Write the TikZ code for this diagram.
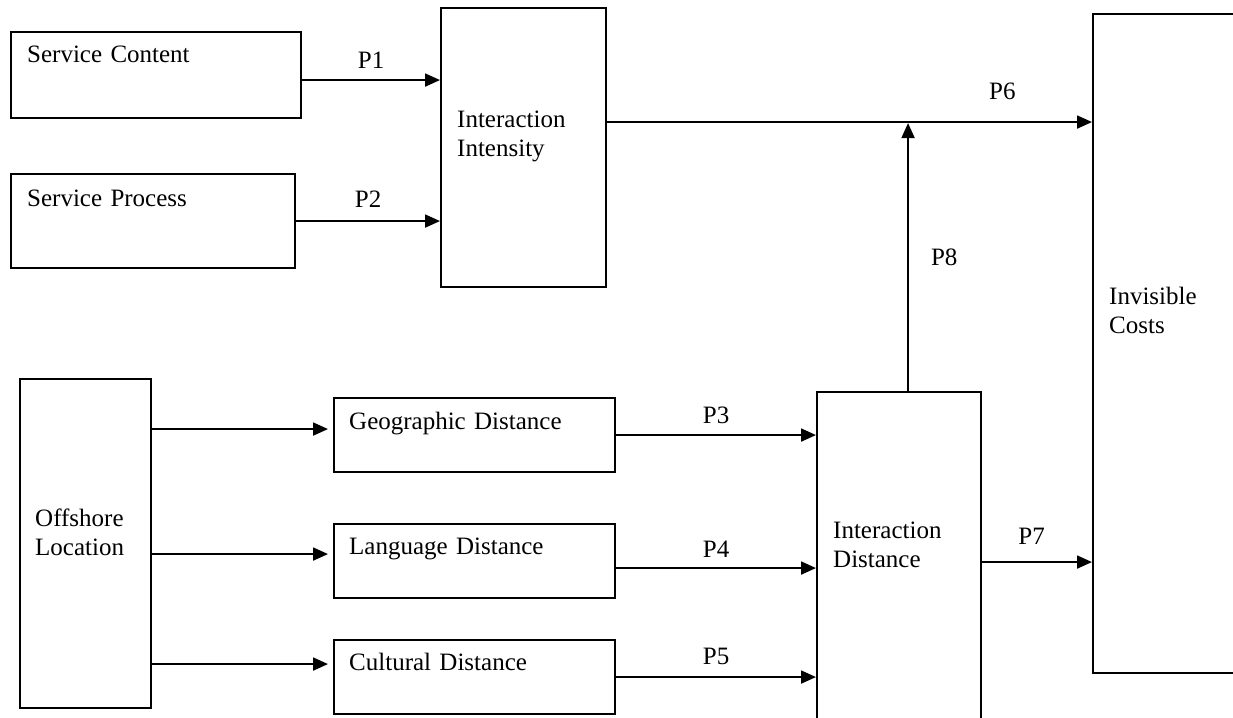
\documentclass[tikz,border=0pt]{standalone}
\usepackage{fontspec}
\setmainfont{Liberation Serif}
\usetikzlibrary{arrows.meta,calc}
\begin{document}
\begin{tikzpicture}[x=1pt,y=-1pt,
  box/.style={draw, rectangle, line width=2.1pt, inner sep=0pt, anchor=north west},
  txt/.style={anchor=base west, inner sep=0pt, font=\fontsize{25}{29}\selectfont,
              align=left, text width=220pt},
  lab/.style={inner sep=0pt, font=\fontsize{25}{29}\selectfont},
  conn/.style={line width=1.9pt, -{Triangle[length=15pt,width=13pt]}}]

% page frame
\useasboundingbox (0,0) rectangle (1233,717);
\fill[white] (0,0) rectangle (1233,717);
\clip (0,0) rectangle (1233,717);

% boxes
\node[box, minimum width=290pt, minimum height=86pt]  (sc) at (10,31)   {};
\node[box, minimum width=284pt, minimum height=94pt]  (sp) at (10,173)  {};
\node[box, minimum width=165pt, minimum height=279pt] (ii) at (440,7)   {};
\node[box, minimum width=150pt, minimum height=659pt] (ic) at (1092,13) {};
\node[box, minimum width=131pt, minimum height=329pt] (ol) at (19,378)  {};
\node[box, minimum width=281pt, minimum height=74pt]  (gd) at (333,397) {};
\node[box, minimum width=281pt, minimum height=74pt]  (ld) at (333,523) {};
\node[box, minimum width=281pt, minimum height=74pt]  (cd) at (333,639) {};
\node[box, minimum width=164pt, minimum height=340pt] (id) at (816,391) {};

% box texts
\node[txt] (tsc) at (27,63)   {Service Content};
\node[txt] (tsp) at (27,206)  {Service Process};
\node[txt] (tii) at (457,127) {Interaction\\Intensity};
\node[txt] (tic) at (1109,304){Invisible\\Costs};
\node[txt] (tol) at (35,526)  {Offshore\\Location};
\node[txt] (tgd) at (349,429) {Geographic Distance};
\node[txt] (tld) at (349,554) {Language Distance};
\node[txt] (tcd) at (349,670) {Cultural Distance};
\node[txt] (tid) at (833,538) {Interaction\\Distance};

% connectors into Interaction Intensity
\draw[conn] ([yshift=-5pt]sc.east) -- ([yshift=-5pt]sc.east -| ii.west)
  node[lab, midway, above=11pt] {P1};
\draw[conn] (sp.east) -- (sp.east -| ii.west)
  node[lab, midway, above=13pt] {P2};

% Interaction Intensity to Invisible Costs
\coordinate (p6) at ([yshift=25.5pt]ii.east);
\draw[conn] (p6) -- (p6 -| ic.west)
  node[lab, pos=0.815, above=21pt] {P6};

% Interaction Distance moderating P6
\draw[conn] ([xshift=9pt]id.north) -- ([xshift=9pt,yshift=-1pt]id.north |- p6)
  node[lab, midway, right=22pt] {P8};

% Offshore Location to the three distances
\draw[conn] ([yshift=6pt]gd.west -| ol.east)  -- ([xshift=-5pt,yshift=6pt]gd.west);
\draw[conn] ([yshift=7pt]ld.west -| ol.east)  -- ([xshift=-5pt,yshift=7pt]ld.west);
\draw[conn] ([yshift=13pt]cd.west -| ol.east) -- ([xshift=-5pt,yshift=13pt]cd.west);

% distances to Interaction Distance
\draw[conn] (gd.east) -- (gd.east -| id.west)
  node[lab, midway, above=10pt] {P3};
\draw[conn] ([yshift=-7pt]ld.east) -- ([yshift=-7pt]ld.east -| id.west)
  node[lab, midway, above=10pt] {P4};
\draw[conn] (cd.east) -- (cd.east -| id.west)
  node[lab, midway, above=11pt] {P5};

% Interaction Distance to Invisible Costs
\draw[conn] (id.east) -- (id.east -| ic.west)
  node[lab, pos=0.45, above=17pt] {P7};
\end{tikzpicture}
\end{document}
